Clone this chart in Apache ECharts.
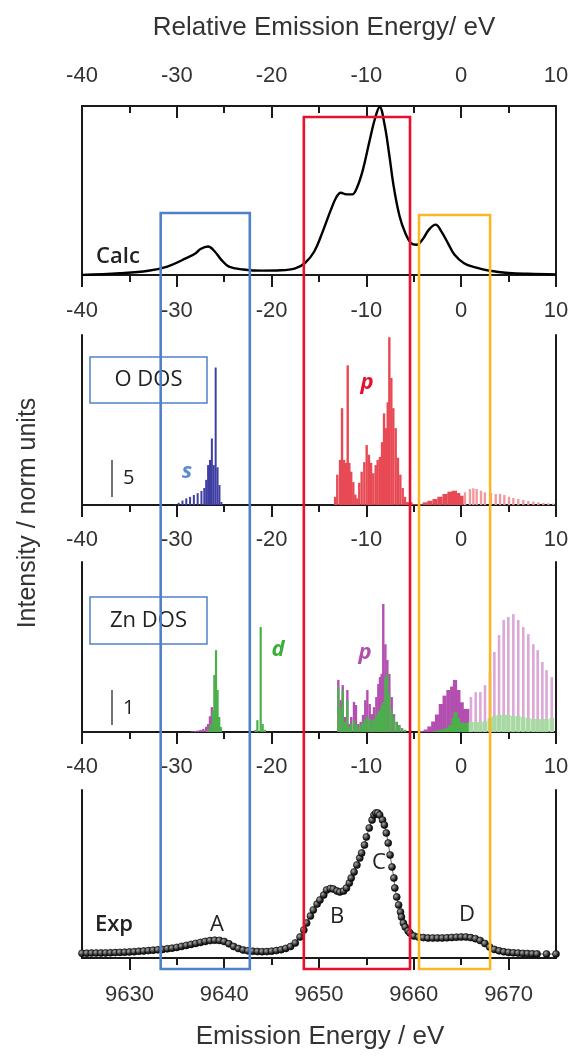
<!DOCTYPE html>
<html>
<head>
<meta charset="utf-8">
<script src="https://cdn.jsdelivr.net/npm/echarts@6/dist/echarts.min.js"></script>
<style>
  html, body { margin: 0; padding: 0; background: #fff; }
  #chart { width: 577px; height: 1056px; }
</style>
</head>
<body>
<div id="chart"></div>
<script>
// relative energy (eV) vs calculated intensity (normalised)
const calc = [[-40,0],[-36,0.01],[-33,0.025],[-31,0.05],[-29,0.1],[-28,0.13],[-27.5,0.155],[-26.7,0.17],[-26,0.14],[-25.3,0.09],[-24.5,0.05],[-23,0.033],[-21,0.026],[-19,0.028],[-17.5,0.04],[-16.5,0.07],[-15.5,0.14],[-14.6,0.26],[-13.8,0.38],[-13.2,0.46],[-12.7,0.49],[-12.1,0.48],[-11.5,0.48],[-11,0.52],[-10.4,0.62],[-9.7,0.79],[-9.1,0.93],[-8.6,1.0],[-8.1,0.9],[-7.6,0.72],[-7.1,0.52],[-6.5,0.35],[-5.9,0.25],[-5.3,0.19],[-4.7,0.18],[-4.1,0.21],[-3.4,0.27],[-2.7,0.30],[-2.1,0.26],[-1.4,0.19],[-0.7,0.12],[0.3,0.07],[1.5,0.045],[3,0.025],[5,0.012],[7,0.007],[10,0.004]];

// O DOS (states/eV)
const oS = [[-30.2,0.05],[-29.8,0.3],[-29.4,0.6],[-29.0,0.9],[-28.6,1.1],[-28.2,1.35],[-27.8,1.6],[-27.4,1.9],[-27.1,2.3],[-26.9,3.4],[-26.7,5.4],[-26.5,6.1],[-26.3,9.0],[-26.1,5.4],[-25.9,18.6],[-25.7,5.1],[-25.5,2.7],[-25.3,0.4]];
const oP = [[-13.3,1.1],[-13.07,4.1],[-12.78,6.1],[-12.57,13.1],[-12.36,6.1],[-12.15,5.7],[-11.97,18.9],[-11.8,5.7],[-11.6,4.5],[-11.38,3.1],[-11.17,1.4],[-10.96,0.9],[-10.75,3.0],[-10.5,4.5],[-10.22,5.8],[-9.97,8.1],[-9.73,6.8],[-9.51,5.7],[-9.27,4.3],[-9.02,5.4],[-8.81,6.1],[-8.57,6.5],[-8.35,8.5],[-8.14,12.4],[-7.93,10.4],[-7.75,13.9],[-7.58,22.7],[-7.37,17.2],[-7.16,13.1],[-6.91,10.4],[-6.67,6.4],[-6.42,4.1],[-6.17,2.3],[-5.93,1.1],[-5.69,0.4]];
const oPvb = [[-5.4,0.36],[-4.9,0.1],[-4.35,0.1],[-3.8,0.36],[-3.3,0.58],[-2.76,0.81],[-2.24,1.12],[-1.7,1.49],[-1.18,1.8],[-0.72,1.93],[-0.37,1.62],[-0.02,1.26]];
const oPcb = [[0.4,1.72],[0.93,2.16],[1.28,2.26],[1.63,2.16],[2.09,1.93],[2.5,1.72],[3.14,1.62],[3.64,1.49],[4.1,1.49],[4.55,1.35],[5.04,1.12],[5.5,0.95],[6.02,0.81],[6.55,0.68],[7.08,0.54],[7.61,0.45],[8.13,0.36],[8.66,0.27],[9.19,0.23],[9.72,0.18]];

// Zn DOS (states/eV)
const znP = [[-28.4,0.02],[-28.1,0.03],[-27.8,0.04],[-27.5,0.06],[-27.2,0.09],[-26.9,0.15],[-26.7,0.23],[-26.5,0.45],[-26.3,0.71],[-26.1,0.6],[-25.9,0.5],[-25.7,0.43],[-25.5,0.15],
  [-12.96,1.49],[-12.71,0.91],[-12.5,1.34],[-12.26,0.43],[-12.01,1.2],[-11.8,0.23],[-11.6,0.43],[-11.31,0.86],[-11.1,0.77],[-10.85,0.23],[-10.6,0.29],[-10.36,0.49],[-10.12,0.91],[-9.9,1.2],[-9.65,0.8],[-9.41,0.51],[-9.2,0.71],[-8.95,1.0],[-8.74,1.37],[-8.57,1.57],[-8.39,1.66],[-8.22,3.66],[-8.0,2.51],[-7.79,2.06],[-7.58,1.66],[-7.33,1.0],[-7.09,0.51],[-6.8,0.29],[-6.53,0.2],[-6.24,0.11],[-5.93,0.06]];
const znPvb = [[-4.17,0.03],[-3.75,0.07],[-3.35,0.16],[-2.95,0.3],[-2.55,0.5],[-2.15,0.8],[-1.75,1.04],[-1.35,1.2],[-0.95,1.3],[-0.65,1.49],[-0.3,1.2],[0.05,0.85],[0.4,0.66],[0.65,0.66]];
const znPcb = [[1.03,1.0],[1.53,1.14],[2.02,1.14],[2.51,1.34],[3.03,1.7],[3.5,2.29],[3.99,2.77],[4.48,3.2],[4.97,3.29],[5.5,3.37],[6.02,3.2],[6.55,3.0],[7.08,2.8],[7.61,2.51],[8.07,2.34],[8.56,2.0],[9.0,1.77],[9.55,1.57]];
const znD = [[-26.68,0.09],[-26.45,0.23],[-26.2,0.6],[-26.04,1.63],[-25.86,2.34],[-25.7,1.2],[-25.52,0.43],[-25.34,0.14],
  [-21.7,0.06],[-21.5,0.34],[-21.15,3.0],[-20.94,0.23],[-20.7,0.06],
  [-12.96,1.29],[-12.71,0.71],[-12.5,1.2],[-12.26,0.29],[-12.01,0.91],[-11.8,0.14],[-11.6,0.23],[-11.31,0.34],[-11.1,0.23],[-10.85,0.14],[-10.6,0.2],[-10.36,0.29],[-10.12,0.37],[-9.9,0.43],[-9.65,0.37],[-9.41,0.34],[-9.2,0.37],[-8.95,0.49],[-8.74,0.57],[-8.57,0.63],[-8.39,0.77],[-8.22,0.86],[-8.0,1.57],[-7.79,1.66],[-7.58,1.09],[-7.33,0.63],[-7.09,0.43],[-6.8,0.29],[-6.53,0.2],[-6.24,0.11],[-5.93,0.06]];
const znDvb = [[-2.75,0.03],[-2.35,0.05],[-1.95,0.08],[-1.55,0.12],[-1.15,0.2],[-0.8,0.4],[-0.6,0.57],[-0.35,0.4],[0.0,0.27],[0.35,0.26],[0.65,0.26]];
const znDcb = [[1.03,0.29],[1.53,0.29],[2.02,0.29],[2.51,0.31],[3.03,0.4],[3.5,0.46],[3.99,0.49],[4.48,0.49],[4.97,0.49],[5.5,0.46],[6.02,0.46],[6.55,0.43],[7.08,0.4],[7.61,0.37],[8.07,0.37],[8.56,0.37],[9.0,0.37],[9.55,0.4]];

// experimental spectrum: emission energy (eV) vs intensity (arb.)
const exp = [[9625,4.7],[9625.5,4.8],[9626,4.9],[9626.5,5],[9627,5],[9627.5,5.1],[9628,5.2],[9628.5,5.4],[9629,5.6],[9629.5,5.8],[9630,6],[9630.5,6.3],[9631,6.7],[9631.5,7],[9632,7.4],[9632.5,7.8],[9633,8.2],[9633.5,8.6],[9634,9.2],[9634.5,9.8],[9635,10.6],[9635.5,11.6],[9636,12.6],[9636.5,13.6],[9637,14.6],[9637.5,15.6],[9638,16.6],[9638.5,17.4],[9639,17.8],[9639.5,17.6],[9640,16.5],[9640.5,14.2],[9641,11.5],[9641.5,9.5],[9642,8],[9642.5,7.2],[9643,6.8],[9643.5,6.5],[9644,6.3],[9644.5,6.4],[9645,6.8],[9645.5,7.4],[9646,8.3],[9646.5,9.6],[9647,11.5],[9647.5,15],[9648,21],[9648.4,28],[9648.7,35],[9649.1,42],[9649.4,48],[9649.8,54],[9650.1,58],[9650.5,63],[9650.8,68],[9651.2,69.5],[9651.5,69],[9651.9,67],[9652.2,66],[9652.6,67],[9652.9,70],[9653.2,75],[9653.4,80],[9653.7,86],[9654,93],[9654.3,100],[9654.5,105],[9654.8,113],[9655,121],[9655.3,130],[9655.6,138],[9655.8,143],[9656,145],[9656.2,145],[9656.4,143],[9656.7,138],[9656.9,133],[9657.1,125],[9657.3,115],[9657.5,103],[9657.7,91],[9657.9,80],[9658,70],[9658.2,61],[9658.4,53],[9658.6,46],[9658.7,41],[9658.9,35],[9659.1,31],[9659.4,27],[9659.6,25],[9660,22],[9660.5,21],[9661,20.4],[9661.5,20],[9662,20],[9662.5,20],[9663,20],[9663.5,20.2],[9664,20.5],[9664.5,20.8],[9665,21],[9665.5,21],[9666,20.4],[9666.5,19.3],[9667,17.5],[9667.5,14.5],[9668,11],[9668.5,8.6],[9669,7.2],[9669.5,6.2],[9670,5.6],[9670.5,5.2],[9671,4.9],[9671.5,4.6],[9672,4.4],[9672.5,4.2],[9673,4.1],[9674,4],[9675,4]];

const absTicks = [9630, 9640, 9650, 9660, 9670];
const absMinor = [9635, 9645, 9655, 9665];

// highlighted regions, relative eV
const boxes = [
  { from: -31.7, to: -22.3, top: 213, color: '#4f81c7' },
  { from: -16.6, to: -5.4, top: 117, color: '#e8102a' },
  { from: -4.45, to: 3.05, top: 215, color: '#f8b825' }
];

const chart = echarts.init(document.getElementById('chart'));
const ink = '#1a1a1a';
const txt = '#333';
const sans = 'Liberation Sans, Arial, sans-serif';
const open = 'Open Sans, Liberation Sans, sans-serif';

const grids = [
  { left: 82, right: 21, top: 106, height: 169 },
  { left: 82, right: 21, top: 335, height: 170 },
  { left: 82, right: 21, top: 562, height: 170 },
  { left: 82, right: 21, top: 790, height: 168 }
];

function relAxis(g, pos, inside, margin) {
  return {
    type: 'value', gridIndex: g, position: pos, min: -40, max: 10, interval: 10,
    axisLine: { show: true, onZero: false, lineStyle: { color: ink, width: 2 } },
    axisTick: { show: true, inside: inside, length: 12, lineStyle: { color: ink, width: 2 } },
    minorTick: { show: true, splitNumber: 2, length: 7, lineStyle: { color: ink, width: 2 } },
    axisLabel: { show: true, margin: margin, fontSize: 22, color: txt, fontFamily: sans },
    splitLine: { show: false }
  };
}

function sideAxis(g, pos, max) {
  return {
    type: 'value', gridIndex: g, position: pos, min: 0, max: max,
    axisLine: { show: true, onZero: false, lineStyle: { color: ink, width: 2 } },
    axisTick: { show: false }, axisLabel: { show: false }, splitLine: { show: false }
  };
}

function bars(name, data, g, color, w) {
  return {
    type: 'custom', name: name, xAxisIndex: g === 1 ? 2 : 3, yAxisIndex: g * 2,
    data: data, encode: { x: 0, y: 1 },
    renderItem: function (params, api) {
      const top = api.coord([api.value(0), api.value(1)]);
      const base = api.coord([api.value(0), 0]);
      return {
        type: 'rect',
        shape: { x: top[0] - w / 2, y: top[1], width: w, height: base[1] - top[1] },
        style: { fill: color }
      };
    }
  };
}

const yMax = [1.006, 23, 4.86, 168];

const sphere = {
  type: 'radial', x: 0.35, y: 0.35, r: 0.75,
  colorStops: [{ offset: 0, color: '#aaa' }, { offset: 0.6, color: '#222' }, { offset: 1, color: '#000' }]
};

function label(id, text, x, y, size, style) {
  return {
    type: 'text', id: id, x: x, y: y, z: 20,
    style: Object.assign({ text: text, fontSize: size, fontFamily: open, fill: '#222', textAlign: 'center', textVerticalAlign: 'middle' }, style || {})
  };
}

chart.setOption({
  animation: false,
  grid: grids,
  xAxis: [
    relAxis(0, 'bottom', false, 25),
    relAxis(0, 'top', true, 19),
    relAxis(1, 'bottom', false, 24),
    relAxis(2, 'bottom', false, 24),
    {
      type: 'value', gridIndex: 3, position: 'bottom', min: 9625, max: 9675,
      axisLine: { show: true, onZero: false, lineStyle: { color: ink, width: 2 } },
      axisTick: { show: true, length: 12, customValues: absTicks, lineStyle: { color: ink, width: 2 } },
      axisLabel: { show: true, margin: 26, fontSize: 22, color: txt, fontFamily: sans, customValues: absTicks, formatter: function (v) { return String(v); } },
      splitLine: { show: false }
    },
    {
      type: 'value', gridIndex: 3, position: 'bottom', min: 9625, max: 9675,
      axisLine: { show: false },
      axisTick: { show: true, length: 7, customValues: absMinor, lineStyle: { color: ink, width: 2 } },
      axisLabel: { show: false },
      splitLine: { show: false }
    }
  ],
  yAxis: [
    sideAxis(0, 'left', yMax[0]), sideAxis(0, 'right', yMax[0]),
    sideAxis(1, 'left', yMax[1]), sideAxis(1, 'right', yMax[1]),
    sideAxis(2, 'left', yMax[2]), sideAxis(2, 'right', yMax[2]),
    sideAxis(3, 'left', yMax[3]), sideAxis(3, 'right', yMax[3])
  ],
  series: [
    {
      type: 'line', name: 'Calc', xAxisIndex: 0, yAxisIndex: 0, data: calc,
      smooth: 0.4, showSymbol: false, lineStyle: { color: '#000', width: 2.4 }
    },
    bars('O s', oS, 1, '#3f3fa3', 2),
    bars('O p', oP, 1, '#e84a55', 2.4),
    bars('O p vb', oPvb, 1, '#e84a55', 5.2),
    bars('O p cb', oPcb, 1, '#f09aa0', 2.4),
    bars('Zn p', znP, 2, '#b34fb0', 2.4),
    bars('Zn p vb', znPvb, 2, '#b34fb0', 4.2),
    bars('Zn p cb', znPcb, 2, '#dba8d8', 2.6),
    bars('Zn d', znD, 2, '#4bb04b', 2.2),
    bars('Zn d vb', znDvb, 2, '#4bb04b', 4.2),
    bars('Zn d cb', znDcb, 2, '#a9d9a2', 4.5),
    {
      type: 'line', name: 'Exp', xAxisIndex: 4, yAxisIndex: 6, data: exp,
      symbol: 'circle', symbolSize: 7, showSymbol: true,
      itemStyle: { color: sphere, borderColor: '#000', borderWidth: 0.6 },
      lineStyle: { color: '#666', width: 1 }
    }
  ],
  graphic: [
    label('t1', 'Relative Emission Energy/ eV', 324, 28, 26, { fontFamily: sans, fill: txt }),
    label('t2', 'Emission Energy / eV', 320, 1037, 26, { fontFamily: sans, fill: txt }),
    Object.assign(label('t3', 'Intensity / norm units', 28, 513, 25, { fontFamily: sans, fill: txt }), { rotation: Math.PI / 2 }),
    label('calc', 'Calc', 118, 257, 22, { fontWeight: 600 }),
    label('exp', 'Exp', 114, 925, 22, { fontWeight: 600 }),
    label('A', 'A', 217, 925, 22),
    label('B', 'B', 337, 917, 22),
    label('C', 'C', 379, 863, 22),
    label('D', 'D', 467, 915, 22),
    { type: 'rect', id: 'obox', z: 15, shape: { x: 90, y: 357, width: 117, height: 46 }, style: { fill: '#fff', stroke: '#4f81c7', lineWidth: 1.5 } },
    label('otxt', 'O DOS', 148.5, 380, 22),
    { type: 'rect', id: 'zbox', z: 15, shape: { x: 90, y: 597, width: 117, height: 47 }, style: { fill: '#fff', stroke: '#4f81c7', lineWidth: 1.5 } },
    label('ztxt', 'Zn DOS', 148.5, 621, 22),
    { type: 'line', id: 'osb', z: 20, shape: { x1: 112, y1: 460, x2: 112, y2: 497 }, style: { stroke: '#444', lineWidth: 1.5 } },
    label('o5', '5', 123, 478, 20, { textAlign: 'left' }),
    { type: 'line', id: 'zsb', z: 20, shape: { x1: 112, y1: 690, x2: 112, y2: 725 }, style: { stroke: '#444', lineWidth: 1.5 } },
    label('z1', '1', 123, 708, 20, { textAlign: 'left' }),
    label('ls', 's', 187, 472, 22, { fill: '#5b8bd0', fontWeight: 'bold', fontStyle: 'italic' }),
    label('lp', 'p', 367, 383, 22, { fill: '#e3102f', fontWeight: 'bold', fontStyle: 'italic' }),
    label('ld', 'd', 278, 650, 22, { fill: '#3cae3c', fontWeight: 'bold', fontStyle: 'italic' }),
    label('lp2', 'p', 365, 653, 22, { fill: '#b04fae', fontWeight: 'bold', fontStyle: 'italic' })
  ]
});

// region boxes spanning all panels, placed through the relative axis
const boxEls = boxes.map(function (b, i) {
  const x1 = chart.convertToPixel({ xAxisIndex: 0 }, b.from);
  const x2 = chart.convertToPixel({ xAxisIndex: 0 }, b.to);
  return {
    type: 'rect', id: 'box' + i, z: 30,
    shape: { x: x1, y: b.top, width: x2 - x1, height: 969 - b.top },
    style: { fill: 'none', stroke: b.color, lineWidth: 2.6 }
  };
});
boxEls.push({ type: 'rect', id: 'edge', z: 40, shape: { x: 568, y: 0, width: 9, height: 1056 }, style: { fill: '#fff' } });
chart.setOption({ graphic: boxEls });
</script>
</body>
</html>
